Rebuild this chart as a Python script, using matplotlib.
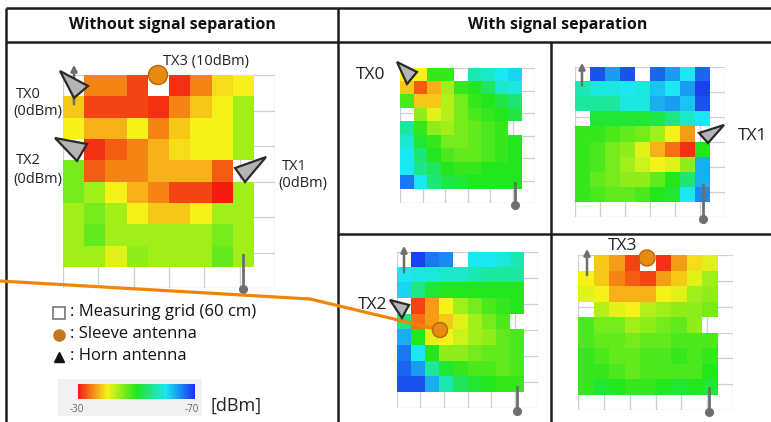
import numpy as np
import matplotlib.pyplot as plt
from matplotlib.colors import LinearSegmentedColormap
from matplotlib.patches import Polygon, Circle

plt.rcParams['font.family'] = ['Open Sans', 'DejaVu Sans']

N = np.nan
# received power maps (dBm), 9x9 cells, top row first; NaN = not measured
no_sep = [
    [N, -35, -35, -32, N, -31, -35, -39, -40],
    [-38, -32, -32, -32, -31, -35, -38, -40, -44],
    [-40, -37, -37, -40, -35, -38, -40, -40, -44],
    [N, -31, -33, -35, -37, -39, -40, -40, -44],
    [-46, -33, -35, -35, -37, -37, -37, -33, N],
    [-46, -44, -40, -37, -35, -32, -32, -30, -44],
    [-44, -46, -44, -40, -38, -38, -40, -44, -44],
    [-44, -47, -44, -44, -44, -44, -44, -46, -44],
    [-44, -44, -41, -45, -44, -44, -44, -47, -44],
]
sep_tx0 = [
    [-40, -40, -49, -49, N, -57, -58, -60, -61],
    [-38, -33, -37, -44, -49, -50, -53, -58, -59],
    [-48, -38, -38, -43, -46, -49, -50, -52, -54],
    [N, -45, -41, -43, -46, -48, -49, -50, -52],
    [-56, -49, -45, -44, -46, -47, -48, -49, N],
    [-58, -51, -49, -46, -46, -47, -48, -49, -50],
    [-60, -54, -50, -48, -47, -47, -48, -49, -50],
    [-60, -55, -53, -50, -49, -49, -50, -50, -50],
    [-66, -60, -54, -52, -51, -50, -50, -50, -50],
]
sep_tx1 = [
    [N, -68, -64, -68, N, -67, -64, -60, -67],
    [-57, -59, -59, -60, -59, -62, -60, -64, -69],
    [-56, -56, -56, -59, -59, -63, -64, -62, -68],
    [N, -51, -51, -51, -51, -52, -55, -58, -60],
    [-49, -49, -48, -47, -46, -44, -40, -36, N],
    [-49, -48, -46, -45, -41, -37, -34, -31, -50],
    [-49, -48, -46, -44, -42, -40, -41, -45, -63],
    [-49, -47, -46, -45, -45, -47, -50, -54, -63],
    [-49, -48, -47, -47, -48, -50, -51, -60, -65],
]
sep_tx2 = [
    [N, -69, -66, -65, N, -60, -60, -59, -57],
    [-60, -59, -59, -58, -58, -57, -56, -56, -56],
    [-61, -55, -51, -50, -50, -50, -50, -50, -50],
    [N, -32, -36, -40, -44, -46, -48, -49, -50],
    [-55, -34, -36, -38, -41, -44, -46, -48, N],
    [-63, -50, -41, -40, -42, -44, -45, -47, -48],
    [-66, -60, -50, -45, -45, -46, -47, -47, -48],
    [-67, -64, -56, -51, -49, -48, -48, -47, -48],
    [-68, -68, -63, -57, -53, -51, -50, -49, -49],
]
sep_tx3 = [
    [N, -38, -36, -32, N, -31, -36, -39, -41],
    [-40, -38, -35, -33, -32, -36, -38, -41, -44],
    [-41, -40, -37, -37, -37, -40, -41, -44, -45],
    [N, -43, -41, -40, -43, -44, -45, -45, -46],
    [-48, -46, -46, -44, -45, -46, -47, -45, N],
    [-48, -47, -47, -46, -47, -47, -48, -48, -48],
    [-49, -48, -47, -47, -48, -48, -49, -48, -49],
    [-49, -49, -48, -47, -48, -48, -48, -48, -50],
    [-49, -51, -50, -49, -49, -50, -51, -50, -51],
]
cbar_min, cbar_max = -30, -70

W, H = 771, 422
fig = plt.figure(figsize=(W / 100, H / 100), dpi=100)
cmap = LinearSegmentedColormap.from_list(
    'pw', ['#1a30f0', '#1ae8f2', '#22e61e', '#f6f41a', '#f41c12'])

ax0 = fig.add_axes([0, 0, 1, 1])
ax0.set_xlim(0, W)
ax0.set_ylim(H, 0)
ax0.axis('off')
ax0.patch.set_visible(False)
ax0.set_zorder(10)


def px_axes(x0, y0, x1, y1):
    return fig.add_axes([x0 / W, 1 - y1 / H, (x1 - x0) / W, (y1 - y0) / H])


def heatmap(box, data):
    ax = px_axes(*box)
    for v in np.linspace(0, 10, 7):
        ax.axvline(v, color='#cfcfcf', lw=0.9, zorder=0)
        ax.axhline(v, color='#cfcfcf', lw=0.9, zorder=0)
    ax.imshow(np.array(data, float), cmap=cmap, vmin=-70, vmax=-30,
              extent=(0, 9, 9, 0), interpolation='nearest', aspect='auto', zorder=1)
    ax.set_xlim(0, 10)
    ax.set_ylim(10, 0)
    ax.axis('off')
    return ax


heatmap((63, 75, 275, 288), no_sep)
heatmap((400, 68, 535, 203), sep_tx0)
heatmap((575, 67, 725, 217), sep_tx1)
heatmap((397, 252, 538, 408), sep_tx2)
heatmap((578, 255, 733, 410), sep_tx3)

# table frame
fc = '#1e1e1e'
for xs, ys in [((6, W), (8, 8)), ((6, W), (42, 42)), ((6, 6), (8, H)),
               ((338, 338), (8, H)), ((551, 551), (42, H)), ((338, W), (234, 234))]:
    ax0.plot(xs, ys, color=fc, lw=1.8, solid_capstyle='butt')

ax0.text(172, 25, 'Without signal separation', ha='center', va='center',
         fontsize=11.5, fontweight='bold', color='#111')
ax0.text(558, 25, 'With signal separation', ha='center', va='center',
         fontsize=11.5, fontweight='bold', color='#111')

# receiver arrows (up) and sticks (down)
gray = '#6e6e6e'
for x, yt, yb in [(74, 62, 107), (582, 60, 88), (404, 243, 275), (587, 246, 278)]:
    ax0.annotate('', xy=(x, yt), xytext=(x, yb),
                 arrowprops=dict(arrowstyle='-|>', color=gray, lw=1.8, mutation_scale=9))
for x, yt, yb in [(243, 255, 289), (515, 183, 205), (703, 185, 219), (517, 387, 411), (709, 388, 412)]:
    ax0.plot([x, x], [yt, yb], color=gray, lw=2)
    ax0.plot(x, yb, 'o', ms=5.5, color=gray)

# horn antennas
horns = [
    [(60, 71), (88, 86), (74, 98)],
    [(55, 138), (87, 144), (77, 161)],
    [(266, 157), (235, 168), (245, 182)],
    [(397, 62), (417, 72), (407, 84)],
    [(724, 125), (699, 133), (708, 143)],
    [(390, 300), (409, 305), (402, 318)],
]
for tri in horns:
    ax0.add_patch(Polygon(tri, closed=True, fc='#b4b4b4', ec='#2a2a2a', lw=1.6, zorder=5))

# sleeve antennas and link line
orange = '#f0850a'
ax0.plot([0, 310, 440], [281, 299, 330], color=orange, lw=2.3, solid_capstyle='round', zorder=4)
for (cx, cy), r in [((158, 75), 9.5), ((647, 258), 8), ((440, 330), 7.5)]:
    ax0.add_patch(Circle((cx, cy), r, fc='#e98a12', ec='#b8650a', lw=1, zorder=6))

# labels
lab = dict(fontsize=10.5, va='center', color='#222')
ax0.text(163, 62, 'TX3 (10dBm)', **lab)
ax0.text(16, 94, 'TX0', **lab)
ax0.text(13, 111, '(0dBm)', **lab)
ax0.text(16, 161, 'TX2', **lab)
ax0.text(13, 179, '(0dBm)', **lab)
ax0.text(282, 166, 'TX1', **lab)
ax0.text(278, 183, '(0dBm)', **lab)
rlab = dict(fontsize=12.5, va='center', color='#222')
ax0.text(356, 75, 'TX0', **rlab)
ax0.text(738, 136, 'TX1', **rlab)
ax0.text(358, 305, 'TX2', **rlab)
ax0.text(608, 246, 'TX3', **rlab)

# legend
ax0.plot(59, 313, 's', ms=8, mfc='white', mec='#777', mew=1.2)
ax0.plot(59, 335, 'o', ms=8, color='#c27420')
ax0.plot(59, 357, '^', ms=7.5, color='#111')
leg = dict(fontsize=12, va='center', color='#111')
ax0.text(70, 312, ': Measuring grid (60 cm)', **leg)
ax0.text(70, 334, ': Sleeve antenna', **leg)
ax0.text(70, 356, ': Horn antenna', **leg)

# colour scale on a light grey card
bg = px_axes(58, 379, 202, 416)
bg.set_facecolor('#f1f1f1')
bg.set_xticks([])
bg.set_yticks([])
for s in bg.spines.values():
    s.set_visible(False)
cax = px_axes(78, 384, 195, 399)
cax.imshow(np.linspace(cbar_min, cbar_max, 256)[None, :], cmap=cmap, vmin=-70, vmax=-30,
           aspect='auto')
cax.axis('off')
ax0.text(77, 410, str(cbar_min), fontsize=7, ha='center', va='center', color='#666')
ax0.text(192, 410, str(cbar_max), fontsize=7, ha='center', va='center', color='#666')
ax0.text(210, 406, '[dBm]', fontsize=13, va='center', color='#222')

fig.savefig('out.png', dpi=100)
